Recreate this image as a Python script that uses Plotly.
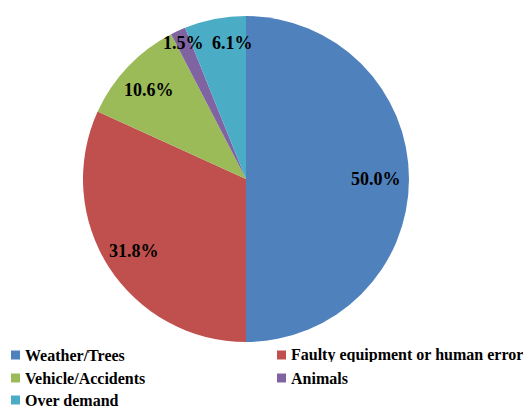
import math
import plotly.graph_objects as go

# Causes of outages (share of events, %)
categories = ["Weather/Trees", "Faulty equipment or human error",
              "Vehicle/Accidents", "Animals", "Over demand"]
shares = [50.0, 31.8, 10.6, 1.5, 6.1]
colors = ["#4F81BD", "#C0504D", "#9BBB59", "#8064A2", "#4BACC6"]

W, H = 524, 407
CX, CY, R = 246, 179, 163          # pie centre and radius in pixels
label_frac = [0.80, 0.82, 0.81, 0.92, 0.84]   # radial placement of % labels
label_turn = [0.0, 0.0, -1.0, 0.0, 5.5]      # small angular nudges (degrees)

fig = go.Figure(go.Pie(
    labels=categories,
    values=shares,
    sort=False,
    direction="clockwise",
    rotation=0,
    marker=dict(colors=colors, line=dict(width=0)),
    textinfo="none",
    hoverinfo="label+percent",
    domain=dict(x=[(CX - R) / W, (CX + R) / W],
                y=[1 - (CY + R) / H, 1 - (CY - R) / H]),
    showlegend=False,
))

serif = "Liberation Serif, Times New Roman, serif"

# Percentage labels placed along each slice's mid-angle
total = sum(shares)
start = 0.0
annotations = []
for val, frac, turn in zip(shares, label_frac, label_turn):
    mid = start + val / total * 360 / 2 + turn
    start += val / total * 360
    th = math.radians(mid)
    px = CX + R * frac * math.sin(th)
    py = CY - R * frac * math.cos(th)
    annotations.append(dict(
        x=px / W, y=1 - py / H, xref="paper", yref="paper",
        text=f"<b>{val:.1f}%</b>", showarrow=False,
        font=dict(family=serif, size=18, color="#000000"),
        xanchor="center", yanchor="middle"))

# Two-column legend below the pie
shapes = []
col_x = [11, 277]
row_y = [355, 378, 400]
sq = 9
for i, (name, col) in enumerate(zip(categories, colors)):
    x0 = col_x[i % 2]
    yc = row_y[i // 2]
    shapes.append(dict(type="rect", xref="paper", yref="paper",
                       x0=x0 / W, x1=(x0 + sq) / W,
                       y0=1 - (yc + sq / 2) / H, y1=1 - (yc - sq / 2) / H,
                       fillcolor=col, line=dict(width=0)))
    annotations.append(dict(
        x=(x0 + sq + 3) / W, y=1 - yc / H, xref="paper", yref="paper",
        text=f"<b>{name}</b>", showarrow=False, height=14,
        font=dict(family=serif, size=16, color="#000000"),
        xanchor="left", yanchor="middle", valign="middle"))

fig.update_layout(
    width=W, height=H,
    margin=dict(l=0, r=0, t=0, b=0),
    paper_bgcolor="#FFFFFF",
    plot_bgcolor="#FFFFFF",
    annotations=annotations,
    shapes=shapes,
)

fig.write_html("out.html")
